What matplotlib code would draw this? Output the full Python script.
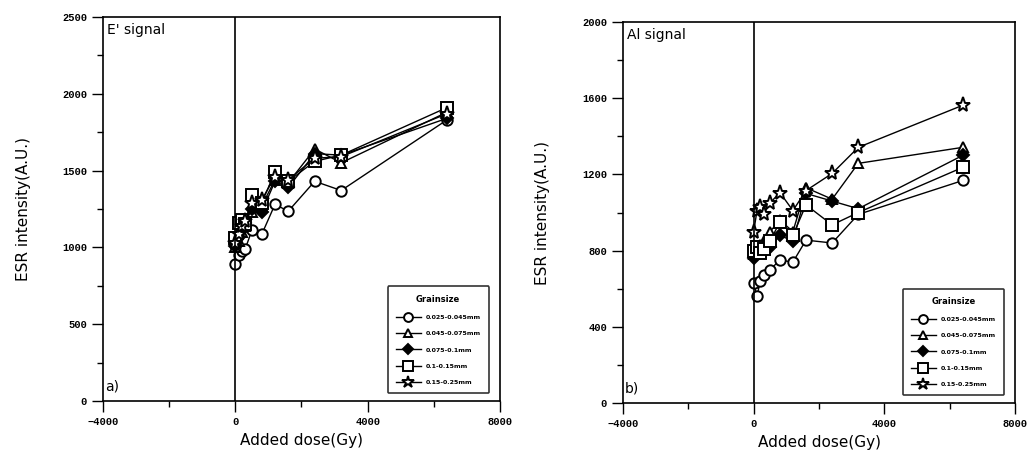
import numpy as np
import matplotlib
matplotlib.use("Agg")
import matplotlib.pyplot as plt
import matplotlib.ticker as mticker

# added dose (Gy)
dose = [0, 100, 200, 300, 500, 800, 1200, 1600, 2400, 3200, 6400]

grain_labels = ['0.025-0.045mm', '0.045-0.075mm', '0.075-0.1mm',
                '0.1-0.15mm', '0.15-0.25mm']

# E' signal
e_circle = [890, 950, 975, 990, 1110, 1085, 1280, 1235, 1430, 1370, 1830]
e_tri = [1000, 1040, 1100, 1140, 1230, 1270, 1440, 1420, 1640, 1550, 1880]
e_diam = [1010, 1070, 1110, 1160, 1250, 1230, 1430, 1390, 1610, 1600, 1840]
e_square = [1060, 1160, 1180, 1150, 1340, 1290, 1490, 1430, 1560, 1600, 1910]
e_star = [1030, 1090, 1140, 1170, 1290, 1310, 1460, 1440, 1580, 1590, 1870]

# Al signal
al_circle = [630, 560, 640, 670, 700, 750, 740, 855, 840, 990, 1168]
al_tri = [780, 800, 830, 850, 900, 960, 900, 1130, 1070, 1258, 1342]
al_diam = [760, 780, 800, 800, 820, 880, 850, 1100, 1060, 1020, 1300]
al_square = [800, 820, 790, 810, 850, 950, 880, 1040, 935, 1000, 1237]
al_star = [900, 1010, 1030, 990, 1050, 1105, 1010, 1115, 1205, 1342, 1563]

markers = ['o', '^', 'D', 's', '*']
faces = ['white', 'white', 'black', 'white', 'white']
msizes = [7.5, 7.5, 6.5, 8.5, 11]

fig = plt.figure(figsize=(10.36, 4.69), dpi=100)
ax1 = fig.add_axes([0.0994, 0.145, 0.3832, 0.819])
ax2 = fig.add_axes([0.6014, 0.1407, 0.3784, 0.8124])


def draw(ax, series, ymax, ymaj, ymin, sig, tag, lpad):
    for vals, m, fc, ms, lab in zip(series, markers, faces, msizes, grain_labels):
        ax.plot(dose, vals, color='black', lw=1, marker=m, ms=ms,
                mfc=fc, mec='black', mew=1.4, label=lab)
    ax.axvline(0, color='black', lw=1.2)
    ax.set_xlim(-4000, 8000)
    ax.set_ylim(0, ymax)
    ax.xaxis.set_major_locator(mticker.MultipleLocator(4000))
    ax.xaxis.set_minor_locator(mticker.MultipleLocator(2000))
    ax.yaxis.set_major_locator(mticker.MultipleLocator(ymaj))
    ax.yaxis.set_minor_locator(mticker.MultipleLocator(ymin))
    ax.tick_params(which='major', direction='out', length=8, width=1,
                   labelsize=7.5)
    ax.tick_params(which='minor', direction='out', length=4, width=1)
    for t in ax.get_xticklabels() + ax.get_yticklabels():
        t.set_fontweight('bold')
        t.set_family('Liberation Mono')
    for s in ax.spines.values():
        s.set_linewidth(1.2)
    ax.set_xlabel('Added dose(Gy)', fontsize=11, labelpad=4)
    ax.set_ylabel('ESR intensity(A.U.)', fontsize=11, labelpad=lpad)
    ax.text(0.01, 0.985, sig, transform=ax.transAxes, fontsize=10,
            va='top', ha='left')
    ax.text(0.005, 0.02, tag, transform=ax.transAxes, fontsize=10,
            va='bottom', ha='left')
    leg = ax.legend(loc='lower right', fontsize=4.5, title='Grainsize',
                    title_fontsize=6, frameon=True, fancybox=True,
                    edgecolor='black', borderpad=1.3, labelspacing=1.75,
                    handlelength=4.0, markerscale=0.85,
                    bbox_to_anchor=(0.98, 0.012))
    leg.get_title().set_fontweight('bold')
    leg.get_frame().set_linewidth(1.2)
    for t in leg.get_texts():
        t.set_fontweight('bold')


draw(ax1, [e_circle, e_tri, e_diam, e_square, e_star], 2500, 500, 250,
     "E' signal", 'a)', 22)
draw(ax2, [al_circle, al_tri, al_diam, al_square, al_star], 2000, 400, 200,
     'Al signal', 'b)', 23)

fig.savefig('out.png', dpi=100)
